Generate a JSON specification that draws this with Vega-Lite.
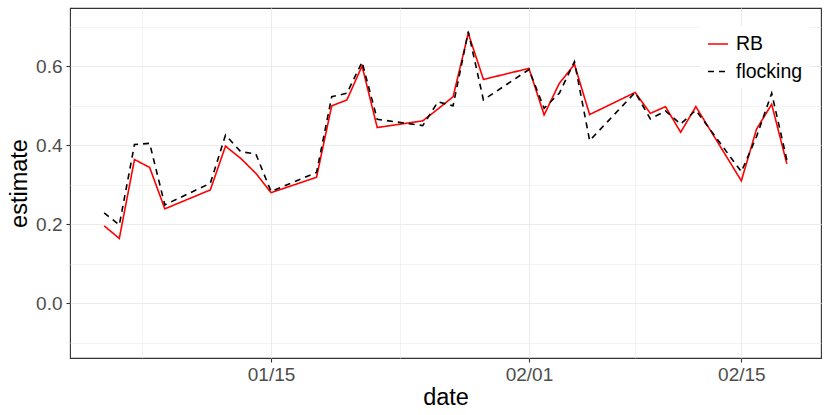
{
  "$schema": "https://vega.github.io/schema/vega-lite/v6.json",
  "width": 751,
  "height": 350,
  "autosize": {"type": "none"},
  "padding": {"left": 70, "top": 8, "right": 9, "bottom": 57},
  "background": "white",
  "config": {
    "view": {"stroke": "#333333", "strokeWidth": 1.1},
    "font": "Liberation Sans",
    "axis": {
      "domain": false,
      "gridColor": "#ebebeb",
      "tickColor": "#333333",
      "tickSize": 4,
      "tickWidth": 1.1,
      "labelColor": "#4d4d4d",
      "labelFontSize": 19,
      "labelFont": "Liberation Sans",
      "titleFont": "Liberation Sans",
      "titleFontSize": 23.5,
      "titleFontWeight": "normal",
      "titleColor": "#000000"
    }
  },
  "data": {
    "values": [
      {"date": "2016-01-04", "method": "RB", "estimate": 0.196},
      {"date": "2016-01-05", "method": "RB", "estimate": 0.164},
      {"date": "2016-01-06", "method": "RB", "estimate": 0.364},
      {"date": "2016-01-07", "method": "RB", "estimate": 0.344},
      {"date": "2016-01-08", "method": "RB", "estimate": 0.239},
      {"date": "2016-01-11", "method": "RB", "estimate": 0.287},
      {"date": "2016-01-12", "method": "RB", "estimate": 0.398},
      {"date": "2016-01-13", "method": "RB", "estimate": 0.367},
      {"date": "2016-01-14", "method": "RB", "estimate": 0.329},
      {"date": "2016-01-15", "method": "RB", "estimate": 0.280},
      {"date": "2016-01-18", "method": "RB", "estimate": 0.319},
      {"date": "2016-01-19", "method": "RB", "estimate": 0.500},
      {"date": "2016-01-20", "method": "RB", "estimate": 0.515},
      {"date": "2016-01-21", "method": "RB", "estimate": 0.601},
      {"date": "2016-01-22", "method": "RB", "estimate": 0.445},
      {"date": "2016-01-25", "method": "RB", "estimate": 0.462},
      {"date": "2016-01-26", "method": "RB", "estimate": 0.492},
      {"date": "2016-01-27", "method": "RB", "estimate": 0.523},
      {"date": "2016-01-28", "method": "RB", "estimate": 0.684},
      {"date": "2016-01-29", "method": "RB", "estimate": 0.567},
      {"date": "2016-02-01", "method": "RB", "estimate": 0.595},
      {"date": "2016-02-02", "method": "RB", "estimate": 0.477},
      {"date": "2016-02-03", "method": "RB", "estimate": 0.557},
      {"date": "2016-02-04", "method": "RB", "estimate": 0.605},
      {"date": "2016-02-05", "method": "RB", "estimate": 0.478},
      {"date": "2016-02-08", "method": "RB", "estimate": 0.534},
      {"date": "2016-02-09", "method": "RB", "estimate": 0.481},
      {"date": "2016-02-10", "method": "RB", "estimate": 0.498},
      {"date": "2016-02-11", "method": "RB", "estimate": 0.433},
      {"date": "2016-02-12", "method": "RB", "estimate": 0.498},
      {"date": "2016-02-15", "method": "RB", "estimate": 0.310},
      {"date": "2016-02-16", "method": "RB", "estimate": 0.441},
      {"date": "2016-02-17", "method": "RB", "estimate": 0.504},
      {"date": "2016-02-18", "method": "RB", "estimate": 0.353},
      {"date": "2016-01-04", "method": "flocking", "estimate": 0.229},
      {"date": "2016-01-05", "method": "flocking", "estimate": 0.198},
      {"date": "2016-01-06", "method": "flocking", "estimate": 0.402},
      {"date": "2016-01-07", "method": "flocking", "estimate": 0.405},
      {"date": "2016-01-08", "method": "flocking", "estimate": 0.249},
      {"date": "2016-01-11", "method": "flocking", "estimate": 0.304},
      {"date": "2016-01-12", "method": "flocking", "estimate": 0.426},
      {"date": "2016-01-13", "method": "flocking", "estimate": 0.384},
      {"date": "2016-01-14", "method": "flocking", "estimate": 0.378},
      {"date": "2016-01-15", "method": "flocking", "estimate": 0.283},
      {"date": "2016-01-18", "method": "flocking", "estimate": 0.331},
      {"date": "2016-01-19", "method": "flocking", "estimate": 0.523},
      {"date": "2016-01-20", "method": "flocking", "estimate": 0.532},
      {"date": "2016-01-21", "method": "flocking", "estimate": 0.611},
      {"date": "2016-01-22", "method": "flocking", "estimate": 0.466},
      {"date": "2016-01-25", "method": "flocking", "estimate": 0.450},
      {"date": "2016-01-26", "method": "flocking", "estimate": 0.510},
      {"date": "2016-01-27", "method": "flocking", "estimate": 0.500},
      {"date": "2016-01-28", "method": "flocking", "estimate": 0.688},
      {"date": "2016-01-29", "method": "flocking", "estimate": 0.515},
      {"date": "2016-02-01", "method": "flocking", "estimate": 0.592},
      {"date": "2016-02-02", "method": "flocking", "estimate": 0.494},
      {"date": "2016-02-03", "method": "flocking", "estimate": 0.532},
      {"date": "2016-02-04", "method": "flocking", "estimate": 0.612},
      {"date": "2016-02-05", "method": "flocking", "estimate": 0.412},
      {"date": "2016-02-08", "method": "flocking", "estimate": 0.534},
      {"date": "2016-02-09", "method": "flocking", "estimate": 0.467},
      {"date": "2016-02-10", "method": "flocking", "estimate": 0.487},
      {"date": "2016-02-11", "method": "flocking", "estimate": 0.454},
      {"date": "2016-02-12", "method": "flocking", "estimate": 0.489},
      {"date": "2016-02-15", "method": "flocking", "estimate": 0.333},
      {"date": "2016-02-16", "method": "flocking", "estimate": 0.422},
      {"date": "2016-02-17", "method": "flocking", "estimate": 0.532},
      {"date": "2016-02-18", "method": "flocking", "estimate": 0.363}
    ]
  },
  "layer": [
    {
      "mark": {"type": "line", "opacity": 0},
      "encoding": {
        "x": {
          "field": "date", "type": "temporal",
          "scale": {"type": "utc", "domain": [{"year": 2016, "month": 1, "date": 1, "hours": 18, "utc": true}, {"year": 2016, "month": 2, "date": 20, "hours": 6, "utc": true}]},
          "axis": {"orient": "bottom", "grid": true, "gridWidth": 0.6, "labels": false, "ticks": false, "title": null,
            "values": [{"year": 2016, "month": 1, "date": 6, "hours": 12, "utc": true}, {"year": 2016, "month": 1, "date": 23, "hours": 12, "utc": true}, {"year": 2016, "month": 2, "date": 8, "utc": true}]}
        },
        "y": {
          "field": "estimate", "type": "quantitative",
          "scale": {"domain": [-0.139, 0.748], "nice": false, "zero": false},
          "axis": {"orient": "left", "grid": true, "gridWidth": 0.6, "labels": false, "ticks": false, "title": null, "values": [-0.1, 0.1, 0.3, 0.5, 0.7]}
        }
      }
    },
    {
      "mark": {"type": "line", "strokeWidth": 1.6},
      "encoding": {
        "x": {
          "field": "date", "type": "temporal",
          "axis": {"orient": "bottom", "grid": true, "gridWidth": 1.1, "format": "%m/%d", "title": "date", "labelPadding": 3, "titlePadding": 1,
            "values": [{"year": 2016, "month": 1, "date": 15, "utc": true}, {"year": 2016, "month": 2, "date": 1, "utc": true}, {"year": 2016, "month": 2, "date": 15, "utc": true}]}
        },
        "y": {
          "field": "estimate", "type": "quantitative",
          "axis": {"orient": "left", "grid": true, "gridWidth": 1.1, "format": ".1f", "title": "estimate", "values": [0, 0.2, 0.4, 0.6], "labelPadding": 4, "titlePadding": 4}
        },
        "color": {
          "field": "method", "type": "nominal",
          "scale": {"domain": ["RB", "flocking"], "range": ["#ff0000", "#000000"]},
          "legend": {"title": null, "orient": "none", "legendX": 630, "legendY": 18, "fillColor": "white", "padding": 7,
            "symbolType": "stroke", "symbolSize": 400, "symbolStrokeWidth": 1.6, "labelFontSize": 19.5, "labelColor": "#000000", "labelFont": "Liberation Sans", "rowPadding": 6.5, "labelOffset": 7}
        },
        "strokeDash": {
          "field": "method", "type": "nominal",
          "scale": {"domain": ["RB", "flocking"], "range": [[1, 0], [6, 5]]},
          "legend": {"title": null, "orient": "none", "legendX": 630, "legendY": 18, "fillColor": "white", "padding": 7,
            "symbolType": "stroke", "symbolSize": 400, "symbolStrokeWidth": 1.6, "labelFontSize": 19.5, "labelColor": "#000000", "labelFont": "Liberation Sans", "rowPadding": 6.5, "labelOffset": 7}
        }
      }
    }
  ],
  "resolve": {"axis": {"x": "independent", "y": "independent"}}
}
